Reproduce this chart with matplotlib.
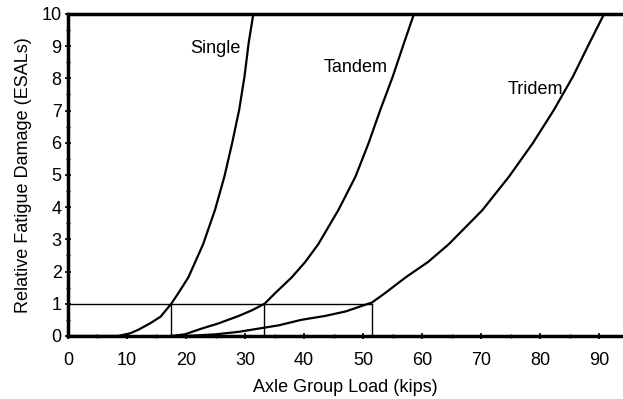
import matplotlib
matplotlib.use("Agg")
import matplotlib.pyplot as plt
from matplotlib.ticker import MultipleLocator

plt.rcParams['font.family'] = ['Liberation Sans', 'DejaVu Sans']

# Data (load in kips, relative damage in ESALs)
single_load = [0, 8.5, 10.5, 11.9, 14.0, 15.7, 16.6, 17.5, 18.7, 20.4, 22.9, 24.9, 26.5, 27.8, 29.0, 29.9, 30.6, 31.4]
single_dmg = [0, 0, 0.08, 0.19, 0.40, 0.60, 0.80, 1.0, 1.33, 1.82, 2.85, 3.91, 4.95, 5.98, 7.02, 8.05, 9.09, 10.0]

tandem_load = [17.5, 19.8, 22.5, 25.5, 28.9, 31.2, 33.3, 35.1, 37.9, 40.2, 42.4, 45.8, 48.7, 50.9, 52.9, 55.0, 56.9, 58.6]
tandem_dmg = [0, 0.05, 0.22, 0.39, 0.62, 0.80, 1.0, 1.33, 1.82, 2.30, 2.85, 3.91, 4.95, 5.98, 7.02, 8.05, 9.09, 10.0]

tridem_load = [20, 25, 29.0, 33.0, 35.7, 39.5, 43.5, 47.0, 51.5, 53.7, 57.2, 61.0, 64.5, 70.2, 74.7, 78.7, 82.3, 85.5, 88.3, 90.8]
tridem_dmg = [0.0, 0.05, 0.13, 0.25, 0.33, 0.50, 0.62, 0.76, 1.04, 1.33, 1.82, 2.30, 2.85, 3.91, 4.95, 5.98, 7.02, 8.05, 9.09, 10.0]

ref_dmg = 1.0
crossing_loads = [17.5, 33.2, 51.5]

labels = ["Single", "Tandem", "Tridem"]
label_pos = [(24.9, 8.93), (48.8, 8.34), (79.2, 7.66)]

fig = plt.figure(figsize=(6.23, 3.99), dpi=100)
ax = fig.add_axes([0.109, 0.158, 0.891, 0.807])

for xs, ys in [(single_load, single_dmg), (tandem_load, tandem_dmg), (tridem_load, tridem_dmg)]:
    ax.plot(xs, ys, color='black', lw=1.6, solid_joinstyle='round')

ax.plot([0, crossing_loads[-1]], [ref_dmg, ref_dmg], color='black', lw=1.0)
for c in crossing_loads:
    ax.plot([c, c], [0, ref_dmg], color='black', lw=1.0)

for lab, (x, y) in zip(labels, label_pos):
    ax.text(x, y, lab, fontsize=13, ha='center', va='center')

ax.set_xlim(0, 94)
ax.set_ylim(0, 10)
ax.xaxis.set_major_locator(MultipleLocator(10))
ax.xaxis.set_minor_locator(MultipleLocator(5))
ax.yaxis.set_major_locator(MultipleLocator(1))
ax.yaxis.set_minor_locator(MultipleLocator(0.5))
ax.tick_params(which='major', direction='inout', length=5, width=1.2, labelsize=13)
ax.tick_params(axis='x', which='major', pad=9)
ax.tick_params(axis='y', which='major', pad=2)
ax.tick_params(which='minor', direction='inout', length=3, width=1.0)

for s in ['left', 'bottom', 'top']:
    ax.spines[s].set_linewidth(2.5)
ax.spines['right'].set_visible(False)

ax.set_xlabel("Axle Group Load (kips)", fontsize=13, labelpad=7)
ax.set_ylabel("Relative Fatigue Damage (ESALs)", fontsize=13, labelpad=7)

fig.savefig("out.png", dpi=100)
